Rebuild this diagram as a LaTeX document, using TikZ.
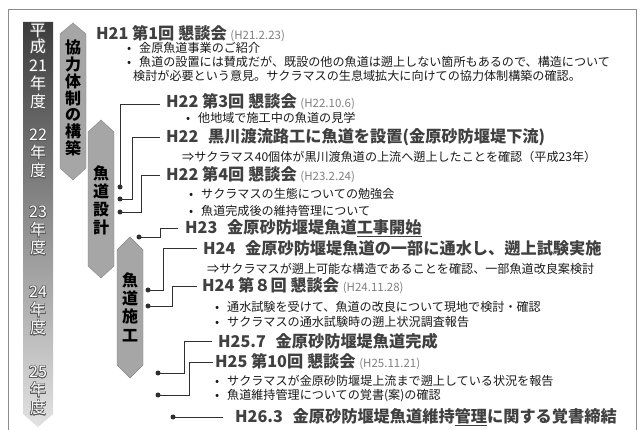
\documentclass[tikz,border=0pt]{standalone}
\usepackage{fontspec}
\setmainfont{Noto Sans CJK JP}
\usepackage{contour}
\contourlength{0.7pt}
\usetikzlibrary{calc}

\definecolor{headc}{HTML}{404040}
\definecolor{datec}{HTML}{808080}
\definecolor{bodyc}{HTML}{1A1A1A}
\definecolor{linec}{HTML}{303030}
\definecolor{phasec}{HTML}{A6A6A6}
\definecolor{bartop}{HTML}{3C3C3C}
\definecolor{barbot}{HTML}{E2E2E2}
\definecolor{yroutline}{HTML}{5A5A5A}
\definecolor{framec}{HTML}{8C8C8C}

\newcommand{\hdate}[1]{{\fontsize{11.5}{13}\selectfont\mdseries\color{datec}#1}}
\newcommand{\bulitem}{\makebox[12pt][l]{•}}
\newcommand{\yrl}[1]{\contour{yroutline}{#1}}

\tikzset{
 head/.style={anchor=west, inner sep=0pt, text=headc, font=\fontsize{16.2}{18}\selectfont\bfseries},
 body/.style={anchor=west, inner sep=0pt, text=bodyc, font=\fontsize{12.1}{14}\selectfont},
 conn/.style={draw=linec, line width=0.9pt},
 dotn/.style={circle, fill=linec, inner sep=0pt, minimum size=5pt},
 phase/.style={fill=phasec, draw=phasec!80!black, line width=0.4pt},
 phtext/.style={align=center, inner sep=0pt, text=black},
 yr/.style={align=center, inner sep=0pt, text=white, font=\fontsize{16}{18}\selectfont},
}

\begin{document}
\begin{tikzpicture}[x=1pt,y=-1pt]
\useasboundingbox (0,0) rectangle (643,430);
\fill[white] (0,0) rectangle (643,430);
\draw[framec, line width=1pt] (8,430) -- (8,10) -- (636,10) -- (636,430);

% year bar
\shade[top color=bartop, bottom color=barbot] (23,22) -- (53,22) -- (53,414) -- (38,427) -- (23,414) -- cycle;
\node[yr, font=\fontsize{16}{16}\selectfont] (yh) at (38,39) {\yrl{平}\\\yrl{成}};
\node[yr] (y21) at (38,85) {\yrl{21}\\\yrl{年}\\\yrl{度}};
\node[yr] (y22) at (38,154) {\yrl{22}\\\yrl{年}\\\yrl{度}};
\node[yr] (y23) at (38,231) {\yrl{23}\\\yrl{年}\\\yrl{度}};
\node[yr] (y24) at (38,311) {\yrl{24}\\\yrl{年}\\\yrl{度}};
\node[yr] (y25) at (38,391) {\yrl{25}\\\yrl{年}\\\yrl{度}};

% phase arrows
\path[phase] (60,34) -- (73,23) -- (86,34) -- (86,168) -- (73,180) -- (60,168) -- cycle;
\node[phtext, font=\fontsize{16}{16.8}\selectfont\bfseries] (p1) at (73,98) {協\\力\\体\\制\\の\\構\\築};
\path[phase] (88,132) -- (101,120) -- (114,132) -- (114,266) -- (101,278) -- (88,266) -- cycle;
\node[phtext, font=\fontsize{16}{18}\selectfont\bfseries] (p2) at (101,200) {魚\\道\\設\\計};
\path[phase] (117,250) -- (130,237) -- (143,250) -- (143,365) -- (130,378) -- (117,365) -- cycle;
\node[phtext, font=\fontsize{16}{18.3}\selectfont\bfseries] (p3) at (130,307) {魚\\道\\施\\工};

% texts
\node[head] (h21) at (96,34) {H21 第1回 懇談会 \hdate{(H21.2.23)}};
\node[body] (b1) at (127,48) {\bulitem 金原魚道事業のご紹介};
\node[body] (b2) at (127,62) {\bulitem 魚道の設置には賛成だが、既設の他の魚道は遡上しない箇所もあるので、構造について};
\node[body] (b3) at (133,76) {検討が必要という意見。サクラマスの生息域拡大に向けての協力体制構築の確認。};

\node[head] (h22a) at (166,102) {H22 第3回 懇談会 \hdate{(H22.10.6)}};
\node[body] (b4) at (186,118) {\bulitem 他地域で施工中の魚道の見学};
\node[head] (h22b) at (166,137) {H22\hspace{0.6em}黒川渡流路工に魚道を設置(金原砂防堰堤下流)};
\node[body] (b5) at (182,157) {⇒サクラマス40個体が黒川渡魚道の上流へ遡上したことを確認（平成23年）};
\node[head] (h22c) at (166,175) {H22 第4回 懇談会 \hdate{(H23.2.24)}};
\node[body] (b6) at (189,194) {\bulitem サクラマスの生態についての勉強会};
\node[body] (b7) at (189,211) {\bulitem 魚道完成後の維持管理について};
\node[head] (h23) at (185,228) {H23\hspace{0.6em}金原砂防堰堤魚道\underline{工事開始}};
\node[head] (h24a) at (203,248) {H24\hspace{0.6em}金原砂防堰堤魚道の一部に通水し、遡上試験実施};
\node[body] (b8) at (207,269) {⇒サクラマスが遡上可能な構造であることを確認、一部魚道改良案検討};
\node[head] (h24b) at (202,286) {H24 第８回 懇談会 \hdate{(H24.11.28)}};
\node[body] (b9) at (215,307) {\bulitem 通水試験を受けて、魚道の改良について現地で検討・確認};
\node[body] (b10) at (215,322) {\bulitem サクラマスの通水試験時の遡上状況調査報告};
\node[head] (h257) at (218,341) {H25.7\hspace{0.6em}金原砂防堰堤魚道完成};
\node[head] (h25) at (215,362) {H25 第10回 懇談会 \hdate{(H25.11.21)}};
\node[body] (b11) at (215,381) {\bulitem サクラマスが金原砂防堰堤上流まで遡上している状況を報告};
\node[body] (b12) at (215,396) {\bulitem 魚道維持管理についての覚書(案)の確認};
\node[head] (h263) at (235,417) {H26.3\hspace{0.6em}金原砂防堰堤魚道維持\underline{管理}に関する覚書締結};

% dots
\node[dotn] (d1) at (120,187) {};
\node[dotn] (d2) at (120,199) {};
\node[dotn] (d3) at (120,212) {};
\node[dotn] (d4) at (139,237) {};
\node[dotn] (d5) at (148,290) {};
\node[dotn] (d6) at (148,306) {};
\node[dotn] (d7) at (158,373) {};
\node[dotn] (d8) at (158,395) {};
\node[dotn] (d9) at (173,417) {};

% connectors
\draw[conn] ([xshift=-6pt,yshift=-2pt]h22a.west) -| (d1.center);
\draw[conn] ([xshift=-6pt]h22b.west) -- ++(-28,0) |- (d2.center);
\draw[conn] ([xshift=-6pt]h22c.west) -- ++(-19,0) |- (d3.center);
\draw[conn] ([xshift=-7pt]h23.west) -- ++(-18,0) |- (d4.center);
\draw[conn] ([xshift=-6pt]h24a.west) -- ++(-34,0) |- (d5.center);
\draw[conn] ([xshift=-5pt]h24b.west) -- ++(-25,0) |- (d6.center);
\draw[conn] ([xshift=-6pt]h257.west) -- ++(-28,0) |- (d7.center);
\draw[conn] ([xshift=-2pt]h25.west) -- ++(-24,0) |- (d8.center);
\draw[conn] (d9.center) -- ([xshift=-12pt]h263.west);
\end{tikzpicture}
\end{document}
